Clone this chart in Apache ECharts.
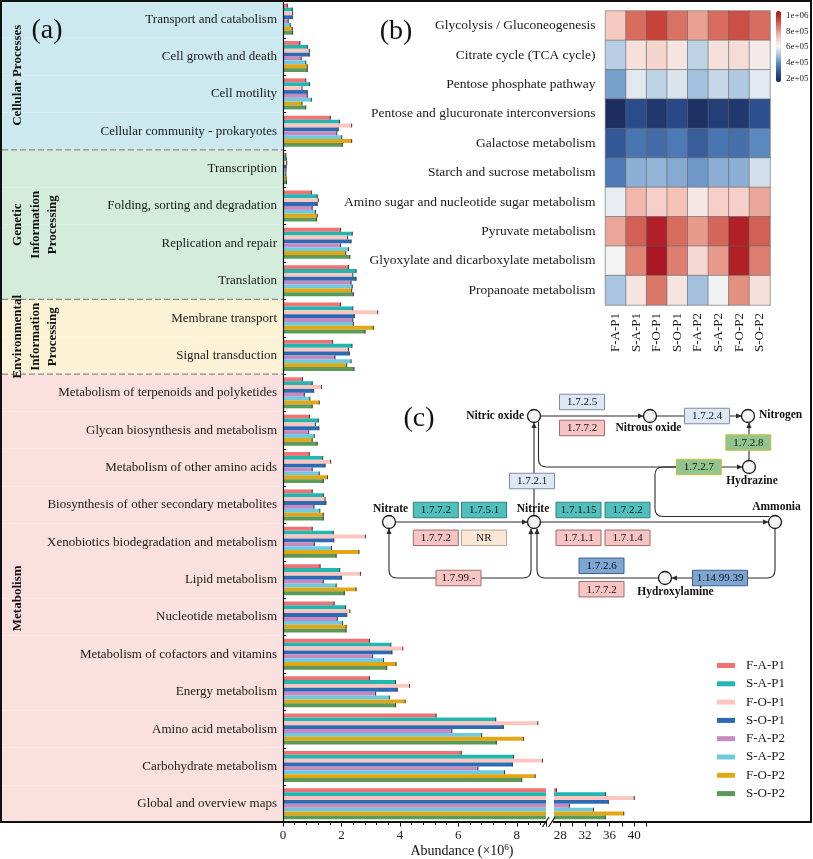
<!DOCTYPE html>
<html>
<head>
<meta charset="utf-8">
<script src="https://cdn.jsdelivr.net/npm/echarts@6.0.0/dist/echarts.min.js"></script>
<style>html,body{margin:0;padding:0;background:#fff;}#chart{width:813px;height:859px;}</style>
</head>
<body>
<div id="chart"></div>
<script>
// ================= Panel (a) data =================
const categories = [
  'Transport and catabolism','Cell growth and death','Cell motility','Cellular community - prokaryotes',
  'Transcription','Folding, sorting and degradation','Replication and repair','Translation',
  'Membrane transport','Signal transduction',
  'Metabolism of terpenoids and polyketides','Glycan biosynthesis and metabolism','Metabolism of other amino acids',
  'Biosynthesis of other secondary metabolites','Xenobiotics biodegradation and metabolism','Lipid metabolism',
  'Nucleotide metabolism','Metabolism of cofactors and vitamins','Energy metabolism','Amino acid metabolism',
  'Carbohydrate metabolism','Global and overview maps'
];
const categoryGroup = [0,0,0,0,1,1,1,1,2,2,3,3,3,3,3,3,3,3,3,3,3,3];
const groupLabels = ['Cellular Processes','Genetic\nInformation\nProcessing','Environmental\nInformation\nProcessing','Metabolism'];
const seriesNames = ['F-A-P1','S-A-P1','F-O-P1','S-O-P1','F-A-P2','S-A-P2','F-O-P2','S-O-P2'];
const FAP1 = [0.15,0.58,0.78,1.62,0.10,0.97,1.97,2.24,1.97,1.70,0.67,0.91,0.90,1.00,1.00,1.27,1.75,2.96,2.96,5.24,6.10,27.4];
const SAP1 = [0.32,0.83,0.91,1.93,0.11,1.17,2.37,2.50,2.39,2.36,1.00,1.21,1.36,1.38,1.72,1.94,2.14,3.69,3.85,7.28,7.89,35.35];
const FOP1 = [0.33,0.90,0.65,2.35,0.13,1.21,2.21,2.39,3.24,2.24,1.32,1.11,1.63,1.44,2.82,2.65,2.29,4.10,4.33,8.72,8.88,40.0];
const SOP1 = [0.32,0.90,0.83,1.89,0.11,1.17,2.33,2.50,2.44,2.27,1.05,1.23,1.44,1.47,1.74,2.00,2.18,3.73,3.91,7.54,7.85,35.8];
const FAP2 = [0.18,0.62,0.83,1.84,0.10,1.00,1.97,2.33,2.39,1.78,0.73,0.88,1.00,1.06,1.07,1.38,1.86,3.07,3.17,5.78,6.67,29.5];
const SAP2 = [0.25,0.78,0.97,2.01,0.10,1.11,2.24,2.37,2.41,2.33,0.92,1.07,1.24,1.26,1.66,1.82,2.04,3.44,3.64,6.80,7.58,33.4];
const FOP2 = [0.32,0.83,0.65,2.35,0.11,1.17,2.15,2.35,3.09,2.18,1.24,1.00,1.52,1.38,2.60,2.50,2.16,3.87,4.18,8.23,8.63,38.3];
const SOP2 = [0.33,0.83,0.78,2.03,0.12,1.15,2.29,2.41,2.81,2.43,1.00,1.17,1.38,1.38,1.82,2.10,2.16,3.55,3.85,7.30,8.17,35.3];
const seriesValues = [FAP1,SAP1,FOP1,SOP1,FAP2,SAP2,FOP2,SOP2];
const leftAxisRange = [0, 9];
const rightAxisRange = [27, 44];
const rightTickLabels = [28,32,36,40];
const rightTicks = [28,30,32,34,36,38,40,42];

// ================= Panel (b) data =================
const heatRows = ['Glycolysis / Gluconeogenesis','Citrate cycle (TCA cycle)','Pentose phosphate pathway',
  'Pentose and glucuronate interconversions','Galactose metabolism','Starch and sucrose metabolism',
  'Amino sugar and nucleotide sugar metabolism','Pyruvate metabolism','Glyoxylate and dicarboxylate metabolism',
  'Propanoate metabolism'];
const heatCols = ['F-A-P1','S-A-P1','F-O-P1','S-O-P1','F-A-P2','S-A-P2','F-O-P2','S-O-P2'];
const hGlycolysis = [720000,880000,950000,870000,790000,880000,930000,880000];
const hCitrate    = [520000,660000,690000,650000,530000,660000,670000,630000];
const hPentoseP   = [430000,580000,530000,570000,490000,540000,510000,580000];
const hPentoseG   = [170000,260000,200000,250000,180000,220000,200000,270000];
const hGalactose  = [290000,350000,330000,360000,300000,350000,340000,390000];
const hStarch     = [360000,460000,470000,450000,420000,460000,460000,560000];
const hAminoSugar = [590000,750000,700000,730000,640000,700000,700000,780000];
const hPyruvate   = [780000,900000,1030000,880000,800000,890000,1030000,900000];
const hGlyoxylate = [610000,840000,1050000,850000,680000,800000,1030000,850000];
const hPropanoate = [500000,650000,860000,650000,490000,600000,820000,660000];
const heatValues = [hGlycolysis,hCitrate,hPentoseP,hPentoseG,hGalactose,hStarch,hAminoSugar,hPyruvate,hGlyoxylate,hPropanoate];
const colorbarRange = [158000, 1056000];
const colorbarTicks = [200000,400000,600000,800000,1000000];

// ================= Panel (c) diagram content =================
const nodeNames = ['Nitric oxide','Nitrous oxide','Nitrogen','Hydrazine','Nitrite','Nitrate','Ammonia','Hydroxylamine'];
const enzymeLabels = ['1.7.2.5','1.7.7.2','1.7.2.4','1.7.2.8','1.7.2.7','1.7.2.1','1.7.7.2','1.7.5.1','1.7.1.15','1.7.2.2',
  '1.7.7.2','NR','1.7.1.1','1.7.1.4','1.7.99.-','1.7.2.6','1.7.7.2','1.14.99.39'];

// ================= styling =================
const SERIF = '"Liberation Serif", "Times New Roman", serif';
const barColors = ['#f07272','#22b6b1','#fcc6bf','#2b6bb4','#c888c1','#6ccbe0','#e3a715','#5b9a59'];
const groupColors = ['#cde9f0','#d3ecdc','#fcf3d6','#fbe0e0'];
const heatColors = ['#1a2a5a','#2c4f8f','#5584bd','#a6c3e0','#f4f4f4','#f6c9bf','#e2897a','#c9463c','#a8141f'];
const GAP = 0.17;

const chart = echarts.init(document.getElementById('chart'), null, {renderer: 'canvas'});

function capRenderer(params, api) {
  const v = api.value(0), ci = api.value(1), si = api.value(2);
  const p = api.coord([v, ci]);
  const band = api.size([0, 1])[1];
  const total = band * (1 - GAP);
  const bw = total / 8;
  const y = p[1] - total / 2 + (si + 0.5) * bw;
  return {type: 'line', shape: {x1: p[0], y1: y - bw / 2, x2: p[0], y2: y + bw / 2},
    style: {stroke: '#3a3a3a', lineWidth: 1}};
}
const capsLeft = [], capsRight = [];
seriesValues.forEach((arr, s) => arr.forEach((v, i) => {
  if (v <= leftAxisRange[1]) capsLeft.push([v, i, s]);
  if (v >= rightAxisRange[0]) capsRight.push([v, i, s]);
}));

const series = [];
series.push({
  name: 'bg', type: 'bar', xAxisIndex: 0, yAxisIndex: 0, silent: true, z: 0,
  barWidth: '100%', data: categories.map((c, i) => ({value: 1, itemStyle: {color: groupColors[categoryGroup[i]]}}))
});
seriesNames.forEach((n, s) => {
  series.push({name: n, type: 'bar', xAxisIndex: 1, yAxisIndex: 1, data: seriesValues[s],
    itemStyle: {color: barColors[s]}, barGap: '0%', barCategoryGap: (GAP * 100) + '%', clip: true});
});
seriesNames.forEach((n, s) => {
  series.push({name: n, type: 'bar', xAxisIndex: 2, yAxisIndex: 2,
    data: seriesValues[s].map(v => v >= rightAxisRange[0] ? v : '-'),
    itemStyle: {color: barColors[s]}, barGap: '0%', barCategoryGap: (GAP * 100) + '%', clip: true});
});
series.push({name: 'caps', type: 'custom', xAxisIndex: 1, yAxisIndex: 1, renderItem: capRenderer,
  data: capsLeft, encode: {x: 0, y: 1}, z: 5, silent: true});
series.push({name: 'caps', type: 'custom', xAxisIndex: 2, yAxisIndex: 2, renderItem: capRenderer,
  data: capsRight, encode: {x: 0, y: 1}, z: 5, silent: true});
const heatData = [];
heatValues.forEach((row, r) => row.forEach((v, c) => heatData.push([c, r, v])));
const heatIndex = series.length;
series.push({name: 'heat', type: 'heatmap', xAxisIndex: 3, yAxisIndex: 3, data: heatData,
  itemStyle: {borderColor: '#666', borderWidth: 0.6}});

function sci(v) {
  const e = Math.floor(Math.log10(v) + 1e-9);
  const m = Math.round(v / Math.pow(10, e));
  return m + 'e+' + String(e).padStart(2, '0');
}

const axisText = {fontFamily: SERIF, fontSize: 13, color: '#1a1a1a'};

const option = {
  animation: false,
  textStyle: {fontFamily: SERIF},
  grid: [
    {left: 1, top: 0.5, width: 282, height: 822},
    {left: 283, top: 0.5, width: 263, height: 822},
    {left: 554, top: 0.5, width: 105, height: 822},
    {left: 605.5, top: 11, width: 164.5, height: 294},
    {left: 776, top: 11, width: 5, height: 71}
  ],
  xAxis: [
    {type: 'value', gridIndex: 0, min: 0, max: 1, show: false},
    {type: 'value', gridIndex: 1, min: leftAxisRange[0], max: leftAxisRange[1], interval: 2,
      axisLine: {show: true, lineStyle: {color: '#111', width: 1.2}},
      axisTick: {show: true, length: 4, lineStyle: {color: '#111'}},
      minorTick: {show: true, splitNumber: 5, length: 2.5, lineStyle: {color: '#111'}},
      splitLine: {show: false},
      axisLabel: Object.assign({margin: 7, showMaxLabel: false, formatter: v => (v % 2 === 0 ? String(v) : '')}, axisText)},
    {type: 'value', gridIndex: 2, min: rightAxisRange[0], max: rightAxisRange[1],
      axisLine: {show: true, lineStyle: {color: '#111', width: 1.2}},
      axisTick: {show: true, length: 4, lineStyle: {color: '#111'}, customValues: rightTicks},
      splitLine: {show: false},
      axisLabel: Object.assign({margin: 7, customValues: rightTickLabels}, axisText)},
    {type: 'category', gridIndex: 3, data: heatCols, position: 'bottom',
      axisLine: {show: false}, axisTick: {show: false},
      axisLabel: Object.assign({rotate: 90, margin: 8, interval: 0}, axisText)},
    {type: 'value', gridIndex: 4, show: false}
  ],
  yAxis: [
    {type: 'category', gridIndex: 0, data: categories, inverse: true, show: false},
    {type: 'category', gridIndex: 1, data: categories, inverse: true, z: 10,
      axisLine: {show: true, lineStyle: {color: '#111', width: 1.2}},
      axisTick: {show: true, inside: true, length: 3, lineStyle: {color: '#111'}},
      axisLabel: Object.assign({margin: 6, interval: 0}, axisText)},
    {type: 'category', gridIndex: 2, data: categories, inverse: true, show: false},
    {type: 'category', gridIndex: 3, data: heatRows, inverse: true,
      axisLine: {show: false}, axisTick: {show: false},
      axisLabel: Object.assign({margin: 10, interval: 0}, axisText, {fontSize: 13.5})},
    {type: 'value', gridIndex: 4, position: 'right', min: colorbarRange[0], max: colorbarRange[1],
      axisLine: {show: false}, axisTick: {show: false}, splitLine: {show: false},
      axisLabel: {customValues: colorbarTicks, formatter: sci, fontFamily: SERIF, fontSize: 9, color: '#222', margin: 5}}
  ],
  visualMap: {
    type: 'continuous', seriesIndex: heatIndex, min: colorbarRange[0], max: colorbarRange[1],
    left: 776, top: 11, itemWidth: 5, itemHeight: 71, padding: 0, calculable: false, text: null,
    inRange: {color: heatColors}, textStyle: {fontSize: 0}
  },
  legend: {
    data: seriesNames, orient: 'vertical', left: 712, top: 654, itemWidth: 18, itemHeight: 5, itemGap: 5.3,
    icon: 'rect', textStyle: {fontFamily: SERIF, fontSize: 13, color: '#1a1a1a', padding: [0, 0, 0, 6]},
    selectedMode: false
  },
  series: series
};
chart.setOption(option);

// ================= graphic overlay =================
const G = [];
const INK = '#2b2b2b';
function seg(a, b, z) { G.push({type: 'line', shape: {x1: a[0], y1: a[1], x2: b[0], y2: b[1]}, style: {stroke: INK, lineWidth: 1.1}, z: z || 20}); }
function quad(a, c, b) { G.push({type: 'bezierCurve', shape: {x1: a[0], y1: a[1], x2: b[0], y2: b[1], cpx1: c[0], cpy1: c[1]}, style: {stroke: INK, lineWidth: 1.1, fill: null}, z: 20}); }
function rpath(pts, r) {
  let cur = pts[0];
  for (let i = 1; i < pts.length; i++) {
    const p = pts[i];
    if (i < pts.length - 1) {
      const n = pts[i + 1];
      const l1 = Math.hypot(p[0] - cur[0], p[1] - cur[1]);
      const a = [p[0] - (p[0] - cur[0]) / l1 * r, p[1] - (p[1] - cur[1]) / l1 * r];
      const l2 = Math.hypot(n[0] - p[0], n[1] - p[1]);
      const b = [p[0] + (n[0] - p[0]) / l2 * r, p[1] + (n[1] - p[1]) / l2 * r];
      seg(cur, a); quad(a, p, b); cur = b;
    } else seg(cur, p);
  }
}
function arrow(x, y, dir) {
  const s = 5.5, w = 2.6; let pts;
  if (dir === 'r') pts = [[x, y], [x - s, y - w], [x - s, y + w]];
  if (dir === 'l') pts = [[x, y], [x + s, y - w], [x + s, y + w]];
  if (dir === 'u') pts = [[x, y], [x - w, y + s], [x + w, y + s]];
  if (dir === 'd') pts = [[x, y], [x - w, y - s], [x + w, y - s]];
  G.push({type: 'polygon', shape: {points: pts}, style: {fill: INK}, z: 22});
}
function txt(t, x, y, font, align, valign, extra) {
  G.push(Object.assign({type: 'text', x: x, y: y, z: 30,
    style: {text: t, x: 0, y: 0, font: font, fill: '#111', align: align || 'center', textAlign: align || 'center',
      verticalAlign: valign || 'middle', textVerticalAlign: valign || 'middle'}}, extra || {}));
}
function node(x, y) { G.push({type: 'circle', shape: {cx: x, cy: y, r: 6.5}, style: {fill: '#f4f4f4', stroke: '#1a1a1a', lineWidth: 1.3}, z: 25}); }
const boxStyles = {
  lb: ['#dde8f4', '#7d8ea3'], pk: ['#f6c5c3', '#a36b6b'], tl: ['#4fc0bd', '#2f7f7c'],
  gr: ['#92c48e', '#c9c23c'], cr: ['#fbe7d6', '#b8a48e'], sb: ['#7ea6d2', '#3d5f8b']
};
function box(label, cx, cy, kind, w) {
  w = w || 45; const h = 15.5;
  G.push({type: 'rect', shape: {x: cx - w / 2, y: cy - h / 2, width: w, height: h},
    style: {fill: boxStyles[kind][0], stroke: boxStyles[kind][1], lineWidth: 1}, z: 26});
  txt(label, cx, cy + 0.5, '11px ' + SERIF, 'center', 'middle');
}

// frame
G.push({type: 'rect', shape: {x: 1, y: 1, width: 810, height: 821}, style: {fill: null, stroke: '#111', lineWidth: 2}, z: 40});
// panel labels
txt('(a)', 47, 31, '28px ' + SERIF);
txt('(b)', 396, 32, '28px ' + SERIF);
txt('(c)', 419, 419, '28px ' + SERIF);
// axis break marks
G.push({type: 'rect', shape: {x: 547, y: 819, width: 6, height: 6}, style: {fill: '#fff'}, z: 41});
G.push({type: 'line', shape: {x1: 542.5, y1: 827, x2: 549, y2: 817}, style: {stroke: '#111', lineWidth: 1.2}, z: 42});
G.push({type: 'line', shape: {x1: 548.5, y1: 827, x2: 555, y2: 817}, style: {stroke: '#111', lineWidth: 1.2}, z: 42});
// x axis name
G.push({type: 'text', x: 462, y: 851, z: 30, style: {text: 'Abundance (×10{sup|6})', x: 0, y: 0,
  font: '14px ' + SERIF, fill: '#111', align: 'center', verticalAlign: 'middle', textAlign: 'center', textVerticalAlign: 'middle',
  rich: {sup: {fontSize: 9, fontFamily: SERIF, verticalAlign: 'top', padding: [0, 0, 6, 0], fill: '#111'}}}});

// group separators and labels (from category axis scale)
const yc = i => chart.convertToPixel({yAxisIndex: 1}, categories[i]);
for (let i = 1; i < categories.length; i++) {
  if (categoryGroup[i] !== categoryGroup[i - 1]) {
    const y = (yc(i - 1) + yc(i)) / 2;
    G.push({type: 'line', shape: {x1: 2, y1: y, x2: 283, y2: y}, style: {stroke: '#8a8a8a', lineWidth: 1.3, lineDash: [6, 3]}, z: 15});
  }
}
groupLabels.forEach((lab, g) => {
  const idx = categories.map((c, i) => i).filter(i => categoryGroup[i] === g);
  const yMid = (yc(idx[0]) + yc(idx[idx.length - 1])) / 2;
  const nLines = lab.split('\n').length;
  const xMid = 18 + (nLines - 1) * 17.5 / 2;
  G.push({type: 'text', x: xMid, y: yMid, rotation: Math.PI / 2, z: 30,
    style: {text: lab, x: 0, y: 0, font: 'bold 13px ' + SERIF, fill: '#111', lineHeight: 17.5,
      align: 'center', verticalAlign: 'middle', textAlign: 'center', textVerticalAlign: 'middle'}});
});

// ---- panel (c): nitrogen cycle ----
const NO = [534, 416], N2O = [650, 416], N2 = [748, 416], HZ = [749, 467], NO2 = [534, 522],
      NO3 = [389, 522], NH4 = [775, 522], HA = [665, 578];
const R = 6.5;
seg([NO[0] + R, 416], [N2O[0] - R, 416]); arrow(N2O[0] - R, 416, 'r');
seg([N2O[0] + R, 416], [N2[0] - R, 416]); arrow(N2[0] - R, 416, 'r');
seg([534, NO2[1] - R], [534, NO[1] + R]); arrow(534, NO[1] + R, 'u');
rpath([[538.5, NO[1] + R - 1], [538.5, 467], [HZ[0] - R, 467]], 8); arrow(HZ[0] - R, 467, 'r');
rpath([[676, 467], [655, 467], [655, 516.5], [769.5, 516.5]], 8);
seg([HZ[0], HZ[1] - R], [HZ[0], N2[1] + R]); arrow(HZ[0], N2[1] + R, 'u');
seg([NO3[0] + R, 522], [NO2[0] - R, 522]); arrow(NO2[0] - R, 522, 'r');
seg([NO2[0] + R, 522], [NH4[0] - R, 522]); arrow(NH4[0] - R, 522, 'r');
rpath([[531, 528.5], [531, 578], [389, 578], [389, 528.5]], 8); arrow(389, 528.5, 'u'); arrow(531, 528.5, 'u');
rpath([[775, 528.5], [775, 578], [HA[0] + R, 578]], 8); arrow(HA[0] + R, 578, 'l');
rpath([[HA[0] - R, 578], [537, 578], [537, 528.5]], 8); arrow(537, 528.5, 'u');

[NO, N2O, N2, HZ, NO2, NO3, NH4, HA].forEach(p => node(p[0], p[1]));
const BF = 'bold 11.5px ' + SERIF;
txt(nodeNames[0], 524, 416, BF, 'right');
txt(nodeNames[1], 648.5, 428.5, BF);
txt(nodeNames[2], 759, 415, BF, 'left');
txt(nodeNames[3], 752, 481.5, BF);
txt(nodeNames[4], 533, 509.5, BF);
txt(nodeNames[5], 390.5, 509, BF);
txt(nodeNames[6], 776.5, 507, BF);
txt(nodeNames[7], 675.5, 592, BF);

box(enzymeLabels[0], 582, 402, 'lb');
box(enzymeLabels[1], 582, 428, 'pk');
box(enzymeLabels[2], 707, 416, 'lb');
box(enzymeLabels[3], 748.3, 442.5, 'gr');
box(enzymeLabels[4], 698.8, 467, 'gr');
box(enzymeLabels[5], 532, 481, 'lb');
box(enzymeLabels[6], 435.8, 510, 'tl');
box(enzymeLabels[7], 484, 510, 'tl');
box(enzymeLabels[8], 578.5, 510, 'tl');
box(enzymeLabels[9], 627.5, 510, 'tl');
box(enzymeLabels[10], 435.8, 537.8, 'pk');
box(enzymeLabels[11], 484, 537.8, 'cr');
box(enzymeLabels[12], 578.5, 537.8, 'pk');
box(enzymeLabels[13], 627.5, 537.8, 'pk');
box(enzymeLabels[14], 458.5, 578, 'pk');
box(enzymeLabels[15], 601.5, 565.8, 'sb');
box(enzymeLabels[16], 601.5, 589.2, 'pk');
box(enzymeLabels[17], 720, 578, 'sb', 55);

chart.setOption({graphic: {elements: G}});
</script>
</body>
</html>
